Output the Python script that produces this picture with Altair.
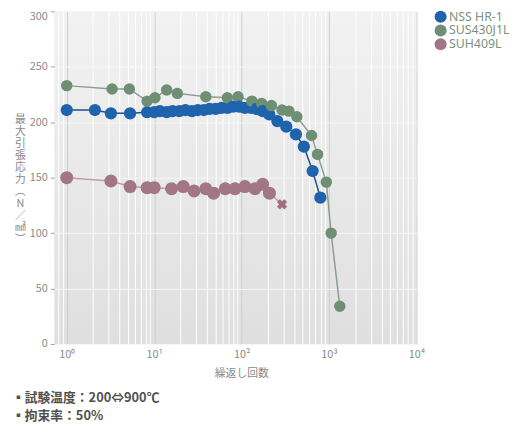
import altair as alt
import pandas as pd

series_names = ["NSS HR-1", "SUS430J1L", "SUH409L"]
fill_colors = ["#1f63ad", "#6f8f75", "#a27686"]
line_colors = ["#1b4f8c", "#8e9c90", "#c29bab"]
label_colors = ["#1b559c", "#7d9280", "#9f7a88"]
point_sizes = [175, 135, 135]

blue_x = [1, 2.1, 3.2, 5.3, 8.3, 10, 11.6, 13.9, 16.2, 19.4, 22.7, 27, 31.6, 37, 43, 50.5,
          59, 68.6, 80, 93.5, 109, 128, 149, 174, 207, 256, 324, 418, 515, 649, 795]
blue_y = [211, 211, 208, 208, 209, 209, 210, 209, 210, 210, 211, 210, 211, 211, 212, 212,
          213, 213, 214, 214, 213, 213, 212, 210, 207, 201, 196, 189, 178, 156, 132]

green_x = [1, 3.3, 5.2, 8.3, 10.2, 13.9, 18.4, 38.9, 68.7, 91, 131, 169, 219, 290, 347,
           428, 630, 738, 930, 1055, 1326]
green_y = [233, 230, 230, 219, 222, 229, 226, 223, 222, 223, 219, 217, 215, 211, 210,
           205, 188, 171, 146, 100, 34]

pink_x = [1, 3.2, 5.3, 8.3, 10, 15.8, 21.5, 28.6, 38.9, 47.8, 65, 84, 109, 142, 174, 208, 290]
pink_y = [150, 147, 142, 141, 141, 140, 142, 138, 140, 136, 140, 140, 142, 140, 144, 136, 126]
pink_kind = ["pt"] * 16 + ["x"]

x_grid = [0.8, 0.9] + [m * 10 ** k for k in range(4) for m in range(1, 10)] + [10000]
y_ticks = [0, 50, 100, 150, 200, 250, 300]

y_title = ["最", "大", "引", "張", "応", "力", "︵", "N", "／", "㎟", "︶"]
x_title = "繰返し回数"
notes = ["▪試験温度：200⇔900℃", "▪拘束率：50%"]

rows = []
for name, xs, ys, kinds in [
    ("NSS HR-1", blue_x, blue_y, ["pt"] * len(blue_x)),
    ("SUS430J1L", green_x, green_y, ["pt"] * len(green_x)),
    ("SUH409L", pink_x, pink_y, pink_kind),
]:
    for xv, yv, kv in zip(xs, ys, kinds):
        rows.append({"series": name, "x": xv, "y": yv, "kind": kv})
df = pd.DataFrame(rows)

FONT = "Noto Sans CJK JP"
MAJOR_TEST = "datum.value == 1 || datum.value == 10 || datum.value == 100 || datum.value == 1000 || datum.value == 10000"

x_enc = alt.X(
    "x:Q",
    scale=alt.Scale(type="log", domain=[0.72, 10000], nice=False),
    axis=alt.Axis(
        values=x_grid,
        labelExpr="datum.value == 1 ? '10⁰' : datum.value == 10 ? '10¹' : datum.value == 100 ? '10²' : datum.value == 1000 ? '10³' : datum.value == 10000 ? '10⁴' : ''",
        grid=True,
        gridColor={"condition": {"test": MAJOR_TEST, "value": "#cdcdcd"}, "value": "#ffffff"},
        gridWidth=1,
        ticks=False,
        domain=False,
        labelFontSize=11,
        labelColor="#8a8a8a",
        labelFont=FONT,
        labelPadding=5,
        labelFlush=False,
        labelOverlap=False,
        title=x_title,
        titleFont=FONT,
        titleFontSize=11,
        titleFontWeight="normal",
        titleColor="#8a8a8a",
        titlePadding=8,
        titleX=190,
    ),
)
y_enc = alt.Y(
    "y:Q",
    scale=alt.Scale(domain=[0, 300], nice=False),
    axis=alt.Axis(
        values=y_ticks,
        grid=True,
        gridColor="#f6f6f6",
        tickSize=4,
        tickColor="#a0a0a0",
        domain=False,
        labelFontSize=11,
        labelColor="#8a8a8a",
        labelFont=FONT,
        labelPadding=3,
        labelOffset={"condition": {"test": "datum.value == 300", "value": 5}, "value": 0},
        title=y_title,
        titleAngle=0,
        titleAlign="center",
        titleBaseline="top",
        titleX=-35,
        titleY=104,
        titleLineHeight=12.2,
        titleFont=FONT,
        titleFontSize=11,
        titleFontWeight="normal",
        titleColor="#8a8a8a",
    ),
)

base = alt.Chart(df).encode(x=x_enc, y=y_enc)

# stroke / size scales use a different domain order so that their (hidden)
# legends are not merged with the fill legend
stroke_order = [2, 1, 0]
size_order = [1, 0, 2]

lines = base.mark_line(strokeWidth=1.5).encode(
    stroke=alt.Stroke(
        "series:N",
        scale=alt.Scale(domain=[series_names[i] for i in stroke_order], range=[line_colors[i] for i in stroke_order]),
        legend=None,
    )
)

legend_common = dict(
    title=None,
    orient="none",
    legendX=386,
    legendY=-1,
    symbolType="circle",
    symbolSize=150,
    symbolStrokeWidth=0,
    labelFont="Noto Sans",
    labelFontSize=12.5,
    labelColor="#7d9280",
    rowPadding=1,
    labelOffset=2,
    labelLimit=200,
)
legend_encoding = {
    "labels": {
        "fill": {
            "condition": [
                {"test": "datum.label == '%s'" % series_names[0], "value": label_colors[0]},
                {"test": "datum.label == '%s'" % series_names[1], "value": label_colors[1]},
            ],
            "value": label_colors[2],
        },
        "fontWeight": {
            "condition": {"test": "datum.label == '%s'" % series_names[0], "value": "bold"},
            "value": "normal",
        },
    }
}
bold_expr = alt.ExprRef("datum.label == '%s' ? 'bold' : 'normal'" % series_names[0])


def build(legend):
    points = base.transform_filter("datum.kind == 'pt'").mark_circle(opacity=1).encode(
        fill=alt.Fill("series:N", scale=alt.Scale(domain=series_names, range=fill_colors), legend=legend),
        size=alt.Size(
            "series:N",
            scale=alt.Scale(domain=[series_names[i] for i in size_order], range=[point_sizes[i] for i in size_order]),
            legend=None,
        ),
        order=alt.Order("x:Q"),
    )
    crosses = base.transform_filter("datum.kind == 'x'").mark_point(
        shape="cross", angle=45, filled=True, size=110, color="#a36e83", opacity=1
    )
    return (
        alt.layer(lines, points, crosses)
        .properties(
            width=368,
            height=338,
            autosize=alt.AutoSizeParams(type="none"),
            padding={"left": 47, "top": 0, "right": 97, "bottom": 86},
            title=alt.TitleParams(
                notes,
                orient="bottom",
                anchor="start",
                frame="group",
                dx=-43,
                offset=14,
                font=FONT,
                fontSize=13,
                fontWeight="bold",
                color="#505050",
                lineHeight=18,
            ),
        )
        .configure_view(
            stroke=None,
            fill=alt.ExprRef("{gradient: 'linear', x1: 0, y1: 0, x2: 0, y2: 1, stops: [{offset: 0, color: '#f2f2f2'}, {offset: 1, color: '#dfdfdf'}]}"),
        )
    )


try:
    chart = build(alt.Legend(encoding=legend_encoding, labelFontWeight=bold_expr, **legend_common))
    chart.to_dict()
except Exception:
    chart = build(alt.Legend(**legend_common))

chart.save("out.html", embed_options={"renderer": "svg", "actions": False})
